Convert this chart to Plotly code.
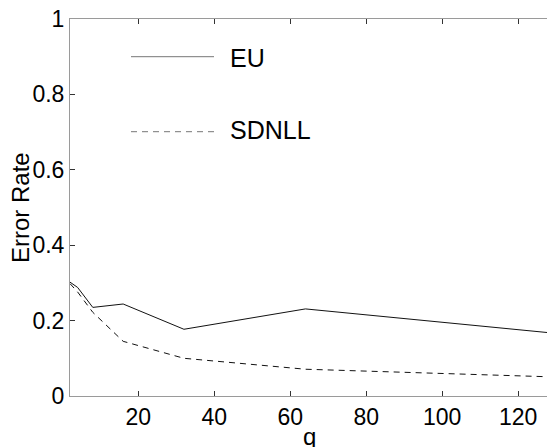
import plotly.graph_objects as go

# Error rate versus q for the two methods
q = [2, 4, 8, 16, 32, 64, 128]
eu = [0.302, 0.288, 0.235, 0.244, 0.177, 0.231, 0.168]
sdnll = [0.298, 0.276, 0.222, 0.145, 0.100, 0.071, 0.051]

x_ticks = [20, 40, 60, 80, 100, 120]
y_ticks = [0, 0.2, 0.4, 0.6, 0.8, 1]
y_tick_text = ["0", "0.2", "0.4", "0.6", "0.8", "1"]

W, H = 547, 447
ML, MR, MT, MB = 70, 0, 19, 51
FONT = "Liberation Sans, Arial, Helvetica, sans-serif"
LINE = "#111111"


def px_x(p):
    return (p - ML) / (W - ML - MR)


def px_y(p):
    return 1 - (p - MT) / (H - MT - MB)


fig = go.Figure()
fig.add_trace(go.Scatter(x=q, y=eu, mode="lines", name="EU",
                         line=dict(color=LINE, width=1)))
fig.add_trace(go.Scatter(x=q, y=sdnll, mode="lines", name="SDNLL",
                         line=dict(color=LINE, width=1, dash="6px,5px")))

# hand-placed legend: sample line + label for each series
legend_items = [("EU", "solid", 56.7, 58.3), ("SDNLL", "6px,5px", 131.7, 129.7)]
for label, dash, ly, ty in legend_items:
    fig.add_shape(type="line", xref="paper", yref="paper",
                  x0=px_x(131), x1=px_x(214), y0=px_y(ly), y1=px_y(ly),
                  line=dict(color="#777777", width=1, dash=dash))
    fig.add_annotation(text=label, xref="paper", yref="paper",
                       x=px_x(228), y=px_y(ty), xanchor="left", yanchor="middle",
                       showarrow=False, font=dict(family=FONT, size=25, color="black"))

# axis titles
fig.add_annotation(text="Error Rate", xref="paper", yref="paper",
                   x=px_x(20.5), y=px_y(207.5), xanchor="center", yanchor="middle",
                   textangle=-90, showarrow=False,
                   font=dict(family=FONT, size=24, color="black"))
fig.add_annotation(text="q", xref="paper", yref="paper",
                   x=px_x(309.5), y=px_y(421), xanchor="center", yanchor="top",
                   showarrow=False,
                   font=dict(family=FONT, size=24, color="black"))

fig.update_layout(
    width=W, height=H,
    margin=dict(l=ML, r=MR, t=MT, b=MB),
    paper_bgcolor="white", plot_bgcolor="white",
    showlegend=False,
    font=dict(family=FONT, color="black"),
)
fig.update_xaxes(
    range=[2, 127.6], tickvals=x_ticks, ticks="inside", ticklen=5,
    tickcolor="#333333", showline=True, linecolor="#9a9a9a", linewidth=1,
    mirror="ticks", showgrid=False, zeroline=False, automargin=False,
    tickfont=dict(family=FONT, size=23, color="black"),
)
fig.update_yaxes(
    range=[0, 1], tickvals=y_ticks, ticktext=y_tick_text, ticks="inside", ticklen=5,
    tickcolor="#333333", showline=True, linecolor="#9a9a9a", linewidth=1,
    mirror=False, showgrid=False, zeroline=False, automargin=False,
    tickfont=dict(family=FONT, size=23, color="black"),
)

fig.write_html("out.html")
